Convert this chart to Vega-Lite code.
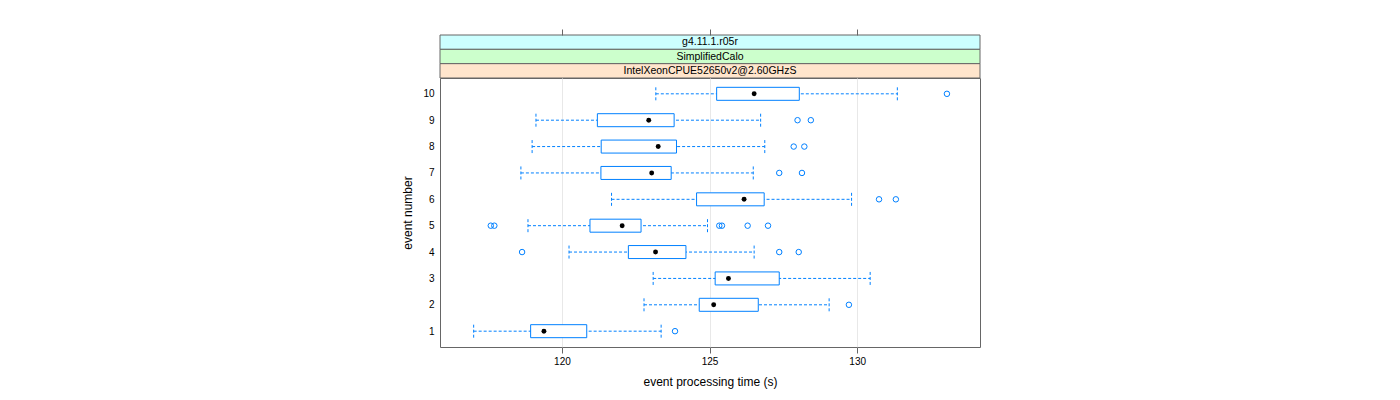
{
  "$schema": "https://vega.github.io/schema/vega-lite/v6.json",
  "autosize": {"type": "none"},
  "padding": {"left": 440, "top": 35, "right": 960, "bottom": 365},
  "config": {
    "font": "Liberation Sans",
    "view": {"stroke": null},
    "axis": {"labelFont": "Liberation Sans", "titleFont": "Liberation Sans", "labelColor": "black", "titleColor": "black", "titleFontWeight": "normal"},
    "axisY": {"labelOverlap": false, "labelFlush": false, "ticks": false, "domain": false, "grid": false, "labelFontSize": 10, "labelPadding": 6, "titleFontSize": 12, "titlePadding": 8}
  },
  "bounds": "flush",
  "spacing": 0,
  "datasets": {
    "strips": [
      {"label": "g4.11.1.r05r", "level": 3},
      {"label": "SimplifiedCalo", "level": 2},
      {"label": "IntelXeonCPUE52650v2@2.60GHzS", "level": 1}
    ],
    "stats": [
      {"event": 10, "lower": 123.18, "q1": 125.24, "median": 126.51, "q3": 128.04, "upper": 131.36},
      {"event": 9, "lower": 119.12, "q1": 121.20, "median": 122.94, "q3": 123.80, "upper": 126.73},
      {"event": 8, "lower": 118.99, "q1": 121.33, "median": 123.26, "q3": 123.88, "upper": 126.87},
      {"event": 7, "lower": 118.61, "q1": 121.32, "median": 123.04, "q3": 123.70, "upper": 126.48},
      {"event": 6, "lower": 121.68, "q1": 124.56, "median": 126.17, "q3": 126.85, "upper": 129.81},
      {"event": 5, "lower": 118.85, "q1": 120.95, "median": 122.04, "q3": 122.68, "upper": 124.93},
      {"event": 4, "lower": 120.24, "q1": 122.25, "median": 123.17, "q3": 124.20, "upper": 126.51},
      {"event": 3, "lower": 123.09, "q1": 125.19, "median": 125.64, "q3": 127.36, "upper": 130.44},
      {"event": 2, "lower": 122.78, "q1": 124.65, "median": 125.14, "q3": 126.65, "upper": 129.05},
      {"event": 1, "lower": 117.01, "q1": 118.94, "median": 119.39, "q3": 120.84, "upper": 123.36}
    ],
    "outliers": [
      {"event": 10, "time": 133.04},
      {"event": 9, "time": 127.98},
      {"event": 9, "time": 128.43},
      {"event": 8, "time": 127.85},
      {"event": 8, "time": 128.21},
      {"event": 7, "time": 127.36},
      {"event": 7, "time": 128.13},
      {"event": 6, "time": 130.74},
      {"event": 6, "time": 131.31},
      {"event": 5, "time": 117.59},
      {"event": 5, "time": 117.71},
      {"event": 5, "time": 125.33},
      {"event": 5, "time": 125.42},
      {"event": 5, "time": 126.29},
      {"event": 5, "time": 126.98},
      {"event": 4, "time": 118.65},
      {"event": 4, "time": 127.36},
      {"event": 4, "time": 128.02},
      {"event": 2, "time": 129.72},
      {"event": 1, "time": 123.83}
    ]
  },
  "vconcat": [
    {
      "width": 540,
      "height": 43,
      "data": {"name": "strips"},
      "layer": [
        {
          "mark": {"type": "rect", "stroke": "#666666", "strokeWidth": 1},
          "encoding": {
            "y": {"field": "label", "type": "nominal", "sort": {"field": "level", "order": "descending"}, "scale": {"paddingInner": 0, "paddingOuter": 0}, "axis": null},
            "fill": {"field": "label", "type": "nominal", "scale": {"domain": ["g4.11.1.r05r", "SimplifiedCalo", "IntelXeonCPUE52650v2@2.60GHzS"], "range": ["#ccffff", "#ccffcc", "#ffe5cc"]}, "legend": null}
          }
        },
        {
          "mark": {"type": "text", "fontSize": 10.5, "color": "black", "font": "Liberation Sans"},
          "encoding": {
            "y": {"field": "label", "type": "nominal", "sort": {"field": "level", "order": "descending"}, "scale": {"paddingInner": 0, "paddingOuter": 0}, "axis": null},
            "text": {"field": "label"}
          }
        }
      ]
    },
    {
      "width": 540,
      "height": 269,
      "view": {"stroke": "#666666", "strokeWidth": 1},
      "resolve": {"axis": {"x": "independent"}},
      "layer": [
        {
          "data": {"name": "stats"},
          "mark": {"type": "rule", "color": "#0080ff", "strokeWidth": 1, "strokeDash": [3, 2]},
          "encoding": {
            "x": {"field": "lower", "type": "quantitative", "scale": {"domain": [115.87, 134.16], "nice": false, "zero": false, "padding": 0},
              "axis": {"orient": "bottom", "values": [120, 125, 130], "grid": true, "gridColor": "#e8e8e8", "domain": false, "tickSize": 6, "tickColor": "#666666", "labelFontSize": 10, "labelPadding": 3, "title": "event processing time (s)", "titleFontSize": 12, "titlePadding": 10}},
            "x2": {"field": "upper"},
            "y": {"field": "event", "type": "quantitative", "scale": {"domain": [0.4, 10.6], "nice": false, "zero": false, "padding": 0},
              "axis": {"values": [1, 2, 3, 4, 5, 6, 7, 8, 9, 10], "title": "event number"}}
          }
        },
        {
          "data": {"name": "stats"},
          "mark": {"type": "point", "shape": "M0,-1L0,1", "size": 169, "filled": false, "stroke": "#0080ff", "strokeWidth": 1, "strokeDash": [3, 2], "opacity": 1},
          "encoding": {
            "x": {"field": "lower", "type": "quantitative", "axis": {"orient": "top", "offset": 43, "values": [120, 125, 130], "labels": false, "grid": false, "domain": false, "tickSize": 6, "tickColor": "#666666", "title": null}},
            "y": {"field": "event", "type": "quantitative", "axis": {"values": [1, 2, 3, 4, 5, 6, 7, 8, 9, 10], "title": "event number"}}
          }
        },
        {
          "data": {"name": "stats"},
          "mark": {"type": "point", "shape": "M0,-1L0,1", "size": 169, "filled": false, "stroke": "#0080ff", "strokeWidth": 1, "strokeDash": [3, 2], "opacity": 1},
          "encoding": {
            "x": {"field": "upper", "type": "quantitative", "axis": null},
            "y": {"field": "event", "type": "quantitative", "axis": {"values": [1, 2, 3, 4, 5, 6, 7, 8, 9, 10], "title": "event number"}}
          }
        },
        {
          "data": {"name": "stats"},
          "mark": {"type": "bar", "size": 13, "fill": "white", "stroke": "#0080ff", "strokeWidth": 1},
          "encoding": {
            "x": {"field": "q1", "type": "quantitative", "axis": null},
            "x2": {"field": "q3"},
            "y": {"field": "event", "type": "quantitative", "axis": {"values": [1, 2, 3, 4, 5, 6, 7, 8, 9, 10], "title": "event number"}}
          }
        },
        {
          "data": {"name": "stats"},
          "mark": {"type": "point", "shape": "circle", "filled": true, "size": 24, "color": "black", "opacity": 1},
          "encoding": {
            "x": {"field": "median", "type": "quantitative", "axis": null},
            "y": {"field": "event", "type": "quantitative", "axis": {"values": [1, 2, 3, 4, 5, 6, 7, 8, 9, 10], "title": "event number"}}
          }
        },
        {
          "data": {"name": "outliers"},
          "mark": {"type": "point", "shape": "circle", "filled": false, "size": 30, "stroke": "#0080ff", "strokeWidth": 1, "opacity": 1},
          "encoding": {
            "x": {"field": "time", "type": "quantitative", "axis": null},
            "y": {"field": "event", "type": "quantitative", "axis": {"values": [1, 2, 3, 4, 5, 6, 7, 8, 9, 10], "title": "event number"}}
          }
        }
      ]
    }
  ]
}
